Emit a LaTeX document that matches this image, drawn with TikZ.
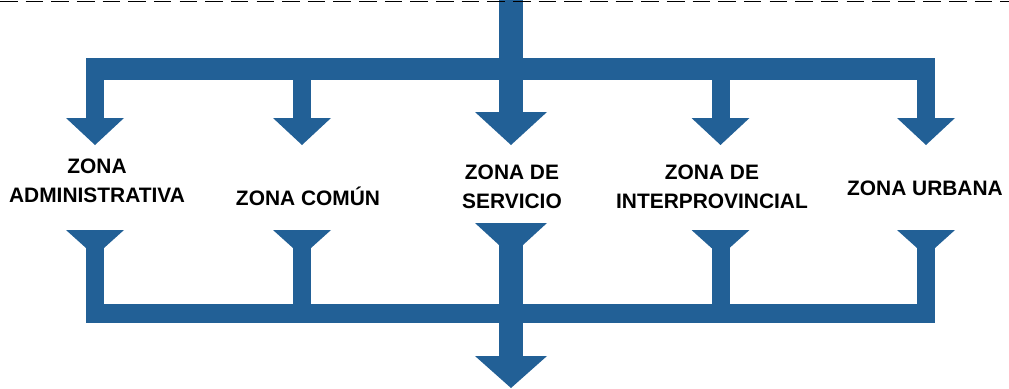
\documentclass[tikz,border=0pt]{standalone}
\usepackage{fontspec}
\setmainfont{Liberation Sans}
\usepackage{tikz}
\usetikzlibrary{positioning}
\usepackage{xcolor}
\definecolor{zoneblue}{RGB}{34,96,150}

\tikzset{
  zonebar/.style={fill=zoneblue, draw=none},
  zonelabel/.style={font=\bfseries\fontsize{11.9}{16.4}\selectfont, align=center, inner sep=0pt},
}

\begin{document}
\begin{tikzpicture}[x=0.02cm, y=-0.02cm]
  \useasboundingbox (0,0) rectangle (1009,389);
  % trunk and upper bar
  \fill[zonebar] (499,0) rectangle (523,112);
  \fill[zonebar] (475,112) -- (547,112) -- (511,145) -- cycle;
  \fill[zonebar] (86,58) rectangle (935,80);
  \foreach \c in {95,302,720.5,926} {
    \fill[zonebar] (\c-9,80) rectangle (\c+9,118);
    \fill[zonebar] (\c-29,118) -- (\c+29,118) -- (\c,145) -- cycle;
  }
  % zones
  \node[zonelabel] (adm) at (97,181) {ZONA\\ADMINISTRATIVA};
  \node[zonelabel] (com) at (308,196) {ZONA COMÚN};
  \node[zonelabel] (ser) at (512,187) {ZONA DE\\SERVICIO};
  \node[zonelabel] (int) at (712,187) {ZONA DE\\INTERPROVINCIAL};
  \node[zonelabel] (urb) at (925,188) {ZONA URBANA};
  % funnels and lower bar
  \foreach \c in {95,302,720.5,926} {
    \fill[zonebar] (\c-29,230) -- (\c+29,230) -- (\c+9,248) -- (\c-9,248) -- cycle;
    \fill[zonebar] (\c-9,248) rectangle (\c+9,304);
  }
  \fill[zonebar] (86,304) rectangle (935,323);
  \fill[zonebar] (475,223) -- (547,223) -- (523,245) -- (499,245) -- cycle;
  \fill[zonebar] (499,245) rectangle (523,356);
  \fill[zonebar] (475,356) -- (547,356) -- (511,388) -- cycle;
  % upper limit
  \draw[line width=0.8pt, dash pattern=on 10pt off 4.6pt] (0,1.5) -- (1009,1.5);
\end{tikzpicture}
\end{document}
